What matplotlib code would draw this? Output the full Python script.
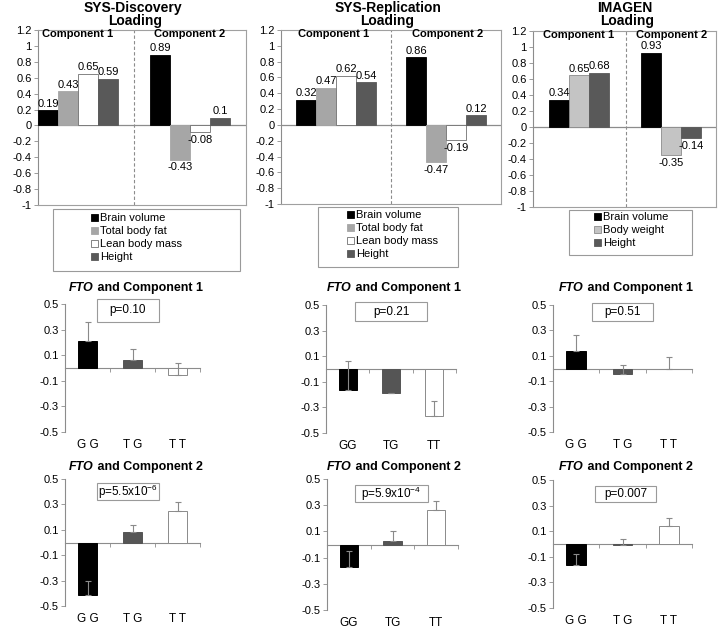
import matplotlib
matplotlib.use("Agg")
import matplotlib.pyplot as plt
from matplotlib.patches import Rectangle, Patch

plt.rcParams['font.family'] = ['Liberation Sans', 'DejaVu Sans']
plt.rcParams['mathtext.fontset'] = 'custom'
plt.rcParams['mathtext.rm'] = 'Liberation Sans'
plt.rcParams['mathtext.it'] = 'Liberation Sans:italic'
plt.rcParams['mathtext.bf'] = 'Liberation Sans:bold'

# ---- loadings (top row) ----
disc_labels = ["Brain volume", "Total body fat", "Lean body mass", "Height"]
disc_comp1 = [0.19, 0.43, 0.65, 0.59]
disc_comp2 = [0.89, -0.43, -0.08, 0.1]

rep_labels = ["Brain volume", "Total body fat", "Lean body mass", "Height"]
rep_comp1 = [0.32, 0.47, 0.62, 0.54]
rep_comp2 = [0.86, -0.47, -0.19, 0.12]

img_labels = ["Brain volume", "Body weight", "Height"]
img_comp1 = [0.34, 0.65, 0.68]
img_comp2 = [0.93, -0.35, -0.14]

# ---- FTO genotype means (+ upper error) ----
geno_spaced = ["G G", "T G", "T T"]
geno_plain = ["GG", "TG", "TT"]

disc_c1_mean = [0.21, 0.065, -0.055]
disc_c1_err = [0.15, 0.085, 0.095]
disc_c2_mean = [-0.415, 0.08, 0.25]
disc_c2_err = [0.115, 0.06, 0.07]

rep_c1_mean = [-0.165, -0.19, -0.37]
rep_c1_err = [0.225, 0.0, 0.12]
rep_c2_mean = [-0.175, 0.025, 0.26]
rep_c2_err = [0.125, 0.075, 0.07]

img_c1_mean = [0.135, -0.045, -0.005]
img_c1_err = [0.125, 0.07, 0.095]
img_c2_mean = [-0.165, -0.01, 0.14]
img_c2_err = [0.09, 0.05, 0.065]

p_c1 = ["p=0.10", "p=0.21", "p=0.51"]
p_c2 = ["p=5.5x10$^{-6}$", "p=5.9x10$^{-4}$", "p=0.007"]

W, H = 720, 629
fig = plt.figure(figsize=(W / 100, H / 100), dpi=100)
GRID = '#8c8c8c'


def px_axes(l, t, r, b):
    return fig.add_axes([l / W, 1 - b / H, (r - l) / W, (b - t) / H])


def fig_box(l, t, r, b):
    fig.add_artist(Rectangle((l / W, 1 - b / H), (r - l) / W, (b - t) / H,
                             transform=fig.transFigure, fill=False,
                             ec='#9a9a9a', lw=0.8))


def loading_panel(box, xmax, starts, dash_x, comp_x, groups, colors, edges,
                  labels, title, tx, leg_box, leg_xy):
    ax = px_axes(*box)
    for g, vals in enumerate(groups):
        xs = [starts[g] + 0.5 + i for i in range(len(vals))]
        ax.bar(xs, vals, width=1.0, color=colors, edgecolor=edges,
               linewidth=0.6, zorder=3)
        for x, v in zip(xs, vals):
            off = 1 if v >= 0 else -2
            ax.annotate(f'{v:g}', (x, v), xytext=(0, off),
                        textcoords='offset points', ha='center',
                        va='bottom' if v >= 0 else 'top', fontsize=8)
    ax.axhline(0, color=GRID, lw=0.9, zorder=2)
    ax.axvline(dash_x, color=GRID, lw=0.8, ls=(0, (3, 2)), zorder=1)
    ax.set_xlim(0, xmax)
    ax.set_ylim(-1, 1.2)
    ax.set_xticks([])
    yt = [1.2, 1, 0.8, 0.6, 0.4, 0.2, 0, -0.2, -0.4, -0.6, -0.8, -1]
    ax.set_yticks(yt)
    ax.set_yticklabels([f'{v:g}' for v in yt])
    ax.tick_params(axis='y', length=3, width=0.6, color=GRID, labelsize=8, pad=1.5)
    for s in ax.spines.values():
        s.set_color('#a0a0a0')
        s.set_linewidth(0.8)
    ax.spines['left'].set_color(GRID)
    for cx, name in zip(comp_x, ["Component 1", "Component 2"]):
        ax.text(cx, 1.145, name, ha='center', va='center', fontsize=8,
                fontweight='bold')
    fig.text(tx[0] / W, 1 - 8 / H, title, ha='center', va='center',
             fontsize=10, fontweight='bold')
    fig.text(tx[1] / W, 1 - 21 / H, "Loading", ha='center', va='center',
             fontsize=10, fontweight='bold')
    fig_box(*leg_box)
    handles = [Patch(facecolor=c, edgecolor=e, linewidth=0.6)
               for c, e in zip(colors, edges)]
    fig.legend(handles, labels, loc='upper left',
               bbox_to_anchor=(leg_xy[0] / W, 1 - leg_xy[1] / H),
               frameon=False, fontsize=8, handlelength=0.6,
               handleheight=0.6, handletextpad=0.25, labelspacing=0.28,
               borderpad=0, borderaxespad=0)


def fto_panel(box, genos, means, errs, pbox, ptext):
    ax = px_axes(*box)
    colors = ['#000000', '#555555', '#ffffff']
    edges = ['#000000', '#555555', '#8a8a8a']
    xs = [0.5, 1.5, 2.5]
    ax.bar(xs, means, width=0.42, color=colors, edgecolor=edges,
           linewidth=0.7, zorder=3)
    ax.errorbar(xs, means, yerr=[[0, 0, 0], errs], fmt='none',
                ecolor='#8a8a8a', elinewidth=0.8, capsize=2, capthick=0.8,
                zorder=4)
    ax.set_xlim(0, 3)
    ax.set_ylim(-0.5, 0.5)
    yt = [0.5, 0.3, 0.1, -0.1, -0.3, -0.5]
    ax.set_yticks(yt)
    ax.set_yticklabels([f'{v:g}' for v in yt])
    ax.set_xticks([0, 1, 2, 3])
    ax.set_xticklabels([])
    ax.tick_params(axis='y', length=3, width=0.6, color=GRID, labelsize=8, pad=1.5)
    ax.tick_params(axis='x', length=3, width=0.6, color=GRID, direction='out')
    ax.spines['top'].set_visible(False)
    ax.spines['right'].set_visible(False)
    ax.spines['bottom'].set_position(('data', 0))
    for s in ('left', 'bottom'):
        ax.spines[s].set_color(GRID)
        ax.spines[s].set_linewidth(0.8)
    for x, g in zip(xs, genos):
        ax.annotate(g, (x, -0.5), xytext=(0, -9.5), textcoords='offset points',
                    ha='center', va='center', fontsize=8.5,
                    annotation_clip=False)
    fig_box(*pbox)
    fig.text((pbox[0] + pbox[2]) / 2 / W, 1 - (pbox[1] + pbox[3]) / 2 / H,
             ptext, ha='center', va='center', fontsize=8.5)
    return ax


def fto_title(cx, cy, comp):
    r = fig.canvas.get_renderer()
    t1 = fig.text(0, 1 - cy / H, "FTO", fontsize=9, fontweight='bold',
                  fontstyle='italic', ha='right', va='center')
    t2 = fig.text(0, 1 - cy / H, " and " + comp, fontsize=9,
                  fontweight='bold', ha='left', va='center')
    w1 = t1.get_window_extent(r).width
    w2 = t2.get_window_extent(r).width
    split = cx - (w1 + w2) / 2 + w1
    t1.set_x(split / W)
    t2.set_x(split / W)


# top row
loading_panel((38, 30, 246, 205), 10.4, [0, 5.6], 4.8, [2.0, 7.6],
              [disc_comp1, disc_comp2],
              ['#000000', '#a6a6a6', '#ffffff', '#595959'],
              ['#000000', '#a6a6a6', '#707070', '#595959'],
              disc_labels, "SYS-Discovery", (133, 135),
              (53, 209, 240, 271), (91, 213))
loading_panel((281, 30, 501, 204), 11.0, [0.75, 6.25], 5.5, [2.65, 8.35],
              [rep_comp1, rep_comp2],
              ['#000000', '#a6a6a6', '#ffffff', '#595959'],
              ['#000000', '#a6a6a6', '#707070', '#595959'],
              rep_labels, "SYS-Replication", (388, 387),
              (318, 207, 458, 267), (347, 210))
loading_panel((533, 31, 716, 207), 9.15, [0.8, 5.4], 4.65, [2.3, 6.95],
              [img_comp1, img_comp2],
              ['#000000', '#c4c4c4', '#595959'],
              ['#000000', '#8c8c8c', '#595959'],
              img_labels, "IMAGEN", (625, 627),
              (569, 210, 692, 255), (594, 212))

# FTO rows
fto_panel((65, 304, 200, 432), geno_spaced, disc_c1_mean, disc_c1_err,
          (97, 299, 159, 322), p_c1[0])
fto_panel((326, 305, 456, 433), geno_plain, rep_c1_mean, rep_c1_err,
          (355, 302, 427, 321), p_c1[1])
fto_panel((553, 305, 692, 432), geno_spaced, img_c1_mean, img_c1_err,
          (592, 303, 653, 321), p_c1[2])

fto_panel((65, 479, 200, 606), geno_spaced, disc_c2_mean, disc_c2_err,
          (97, 483, 159, 500), p_c2[0])
fto_panel((327, 479, 458, 610), geno_plain, rep_c2_mean, rep_c2_err,
          (355, 485, 428, 502), p_c2[1])
fto_panel((553, 480, 692, 608), geno_spaced, img_c2_mean, img_c2_err,
          (595, 486, 656, 502), p_c2[2])

for cx in (136, 394, 626):
    fto_title(cx, 288, "Component 1")
    fto_title(cx, 467, "Component 2")

fig.savefig("out.png", dpi=100)
